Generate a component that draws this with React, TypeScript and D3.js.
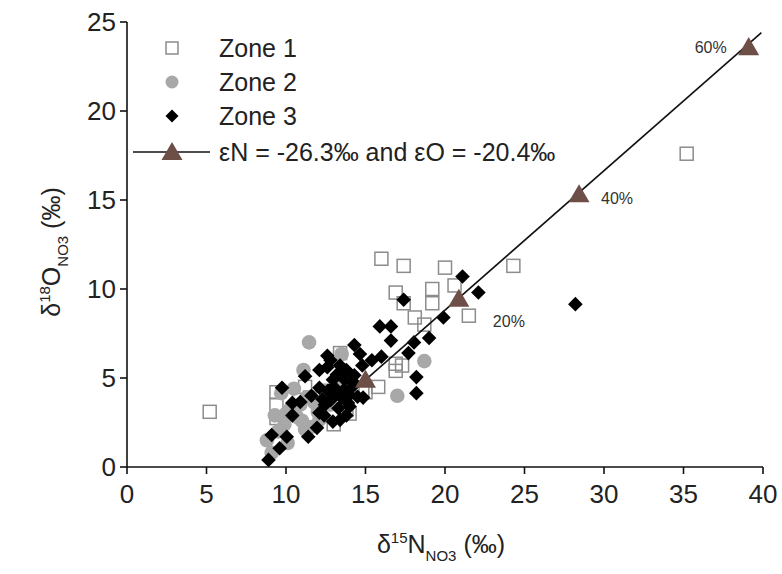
import React from "react";
import * as d3 from "d3";

const W = 782;
const H = 574;

// Zone 1 (open squares): [δ15N, δ18O]
const zone1N = [5.2, 35.2, 24.3, 16.0, 17.4, 20.0, 16.9, 17.4, 19.2, 19.2, 20.6, 18.1, 18.7, 21.5, 16.9, 17.3, 16.9, 15.8, 15.0, 13.8, 13.0, 13.4, 9.4, 9.4, 11.2, 11.5, 14.0, 9.4, 12.3, 14.8];
const zone1O = [3.1, 17.6, 11.3, 11.7, 11.3, 11.2, 9.8, 9.2, 10.0, 9.2, 10.2, 8.4, 8.0, 8.5, 5.8, 5.7, 5.4, 4.5, 4.2, 3.2, 2.4, 6.4, 4.2, 2.75, 4.5, 3.9, 3.0, 3.5, 4.0, 4.2];

// Zone 2 (grey circles)
const zone2N = [11.45, 13.5, 18.7, 17.0, 11.1, 8.8, 9.1, 10.1, 9.7, 11.3, 10.7, 11.6, 10.3, 10.9, 12.0, 9.9, 12.45, 12.1, 9.5, 13.4, 11.2, 12.8, 10.0, 11.0, 10.5, 11.8, 9.3];
const zone2O = [7.0, 6.35, 5.95, 4.0, 5.45, 1.5, 0.8, 1.35, 4.15, 3.9, 2.8, 2.25, 3.3, 3.5, 3.1, 2.4, 4.3, 2.65, 2.0, 4.9, 2.1, 3.5, 3.0, 2.6, 4.4, 3.6, 2.9];

// Zone 3 (black diamonds)
const zone3N = [28.2, 21.1, 22.1, 17.4, 19.9, 19.0, 18.05, 16.6, 15.9, 16.6, 17.7, 18.2, 18.2, 14.3, 14.65, 16.0, 15.4, 14.85, 12.6, 12.6, 11.2, 13.8, 12.95, 12.1, 13.6, 12.8, 14.0, 12.1, 12.95, 13.8, 14.5, 9.75, 10.4, 10.9, 10.4, 11.4, 9.1, 10.05, 9.6, 8.9, 12.1, 13.4, 13.1, 13.7, 14.15, 13.3, 12.45, 14.3, 14.8, 13.4, 11.95, 12.65, 13.5, 14.0, 13.0, 13.2, 12.3, 13.9, 14.2, 12.8, 11.6, 12.4];
const zone3O = [9.15, 10.7, 9.8, 9.4, 8.4, 7.25, 7.0, 7.1, 7.9, 7.9, 6.4, 5.05, 4.15, 6.85, 6.35, 6.2, 6.0, 3.9, 6.25, 5.6, 5.1, 5.45, 4.9, 4.45, 4.3, 3.75, 3.4, 3.05, 2.55, 2.9, 3.95, 4.45, 3.6, 3.65, 2.9, 1.7, 1.8, 1.7, 1.05, 0.4, 5.45, 5.7, 4.05, 4.9, 4.5, 3.3, 3.5, 5.15, 5.7, 2.65, 2.2, 4.3, 3.9, 4.05, 4.5, 5.2, 3.8, 3.6, 4.8, 6.0, 4.0, 2.9];

// Rayleigh line and fraction markers
const lineN = [15.0, 39.9];
const lineO = [4.9, 24.4];
const markN = [15.0, 20.87, 28.43, 39.1];
const markO = [4.9, 9.45, 15.32, 23.59];
const markLabels = ["", "20%", "40%", "60%"];

const xTicks = [0, 5, 10, 15, 20, 25, 30, 35, 40];
const yTicks = [0, 5, 10, 15, 20, 25];

const legendLabels = ["Zone 1", "Zone 2", "Zone 3", "εN = -26.3‰ and εO = -20.4‰"];

const FONT = "'Liberation Sans', Arial, sans-serif";
const BROWN = "#6d4f47";

export default function App() {
  const x = d3.scaleLinear().domain([0, 40]).range([127, 763]);
  const y = d3.scaleLinear().domain([0, 25]).range([467, 22]);

  const sq = 13;
  const dia = 7.3;
  const triPath = (cx: number, cy: number, s: number) => {
    const h = s * 0.866;
    return `M${cx},${cy - (2 * h) / 3}L${cx + s / 2},${cy + h / 3}L${cx - s / 2},${cy + h / 3}Z`;
  };
  const diaPath = (cx: number, cy: number, r: number) =>
    `M${cx},${cy - r}L${cx + r},${cy}L${cx},${cy + r}L${cx - r},${cy}Z`;

  const line = d3
    .line<number>()
    .x((_, i) => x(lineN[i]))
    .y((_, i) => y(lineO[i]));

  const labelOffsets = [
    [0, 0, "start"],
    [34, 28, "start"],
    [22, 10, "start"],
    [-22, 6, "end"],
  ] as const;

  const legX = 172;
  const legTextX = 219;
  const legY = [48, 82, 116, 152];

  return (
    <svg
      width={W}
      height={H}
      style={{ position: "absolute", left: 0, top: 0, background: "#fff" }}
      fontFamily={FONT}
    >
      {/* axes */}
      <g stroke="#111" strokeWidth={1.6} fill="none">
        <line x1={x(0)} x2={x(40)} y1={y(0)} y2={y(0)} />
        <line x1={x(0)} x2={x(0)} y1={y(0)} y2={y(25)} />
        {xTicks.map((t) => (
          <line key={"xt" + t} x1={x(t)} x2={x(t)} y1={y(0)} y2={y(0) + 7} />
        ))}
        {yTicks.map((t) => (
          <line key={"yt" + t} x1={x(0) - 7} x2={x(0)} y1={y(t)} y2={y(t)} />
        ))}
      </g>
      <g fontSize={26} fill="#222">
        {xTicks.map((t) => (
          <text key={"xl" + t} x={x(t)} y={y(0) + 36} textAnchor="middle">
            {t}
          </text>
        ))}
        {yTicks.map((t) => (
          <text key={"yl" + t} x={x(0) - 11} y={y(t) + 9} textAnchor="end">
            {t}
          </text>
        ))}
      </g>

      {/* axis titles */}
      <text x={441} y={553} textAnchor="middle" fontSize={25} fill="#222">
        δ<tspan fontSize={15} dy={-10}>15</tspan>
        <tspan dy={10}>N</tspan>
        <tspan fontSize={15} dy={8}>NO3</tspan>
        <tspan dy={-8}> (‰)</tspan>
      </text>
      <text
        transform="translate(60,252) rotate(-90)"
        textAnchor="middle"
        fontSize={25}
        fill="#222"
      >
        δ<tspan fontSize={15} dy={-10}>18</tspan>
        <tspan dy={10}>O</tspan>
        <tspan fontSize={15} dy={8}>NO3</tspan>
        <tspan dy={-8}> (‰)</tspan>
      </text>

      {/* Zone 1 */}
      <g fill="none" stroke="#8c8c8c" strokeWidth={1.5}>
        {zone1N.map((n, i) => (
          <rect key={"z1" + i} x={x(n) - sq / 2} y={y(zone1O[i]) - sq / 2} width={sq} height={sq} />
        ))}
      </g>
      {/* Zone 2 */}
      <g fill="#a8a8a8">
        {zone2N.map((n, i) => (
          <circle key={"z2" + i} cx={x(n)} cy={y(zone2O[i])} r={7.3} />
        ))}
      </g>
      {/* Zone 3 */}
      <g fill="#000">
        {zone3N.map((n, i) => (
          <path key={"z3" + i} d={diaPath(x(n), y(zone3O[i]), dia)} />
        ))}
      </g>

      {/* Rayleigh line */}
      <path d={line(lineN) || ""} stroke="#111" strokeWidth={1.6} fill="none" />
      <g fill={BROWN}>
        {markN.map((n, i) => (
          <path key={"m" + i} d={triPath(x(n), y(markO[i]) + 2, 21)} />
        ))}
      </g>
      <g fontSize={16} fill="#333">
        {markN.map((n, i) =>
          markLabels[i] ? (
            <text
              key={"ml" + i}
              x={x(n) + labelOffsets[i][0]}
              y={y(markO[i]) + labelOffsets[i][1]}
              textAnchor={labelOffsets[i][2]}
            >
              {markLabels[i]}
            </text>
          ) : null
        )}
      </g>

      {/* legend */}
      <g>
        <rect x={legX - 6} y={legY[0] - 6} width={12} height={12} fill="none" stroke="#8c8c8c" strokeWidth={1.5} />
        <circle cx={legX} cy={legY[1]} r={6.5} fill="#a8a8a8" />
        <path d={diaPath(legX, legY[2], 6.5)} fill="#000" />
        <line x1={133} x2={210} y1={legY[3]} y2={legY[3]} stroke="#111" strokeWidth={1.6} />
        <path d={triPath(legX, legY[3] + 2, 21)} fill={BROWN} />
        {legendLabels.map((l, i) => (
          <text key={"lg" + i} x={legTextX} y={legY[i] + 9} fontSize={25} fill="#222">
            {l}
          </text>
        ))}
      </g>
    </svg>
  );
}
